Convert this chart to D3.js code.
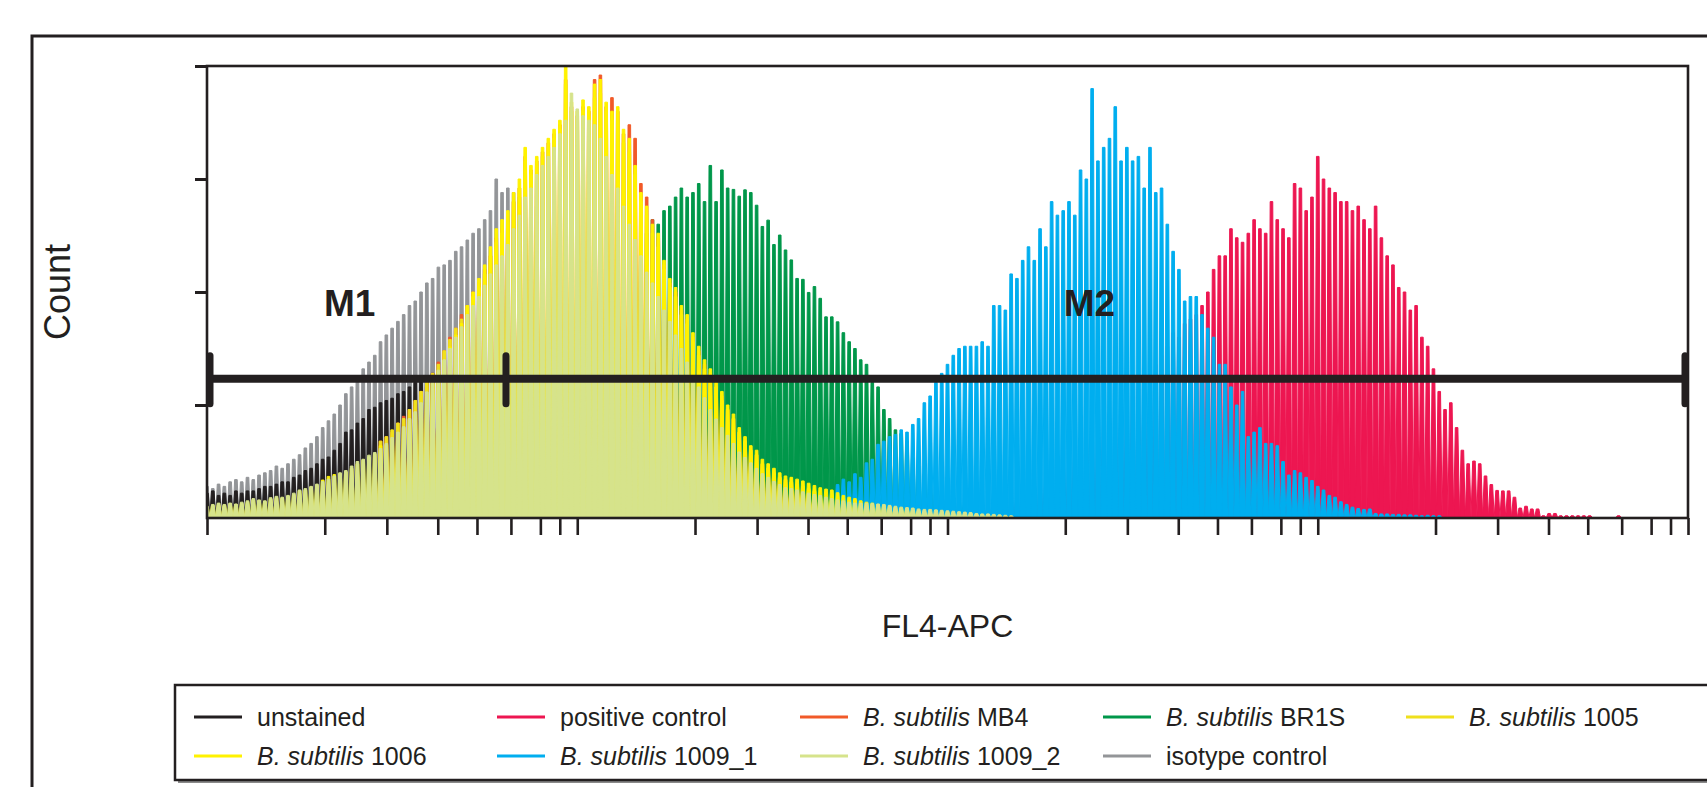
<!DOCTYPE html>
<html>
<head>
<meta charset="utf-8">
<script src="https://cdn.jsdelivr.net/npm/d3@7"></script>
<style>
  body { margin: 0; background: #fff; }
  svg { display: block; font-family: 'Liberation Sans', Arial, sans-serif; }
</style>
</head>
<body>
<div id="chart"></div>
<script>
// histogram counts per channel (256 channels over 4 log decades), in % of full scale
var seriesNames = ['isotype control', 'unstained', 'positive control', 'B. subtilis BR1S', 'B. subtilis 1009_1',
    'B. subtilis MB4', 'B. subtilis 1005', 'B. subtilis 1006', 'B. subtilis 1009_2'];
var seriesColors = ['#939598', '#231f20', '#ed1651', '#00974a', '#00aeef', '#f15a29', '#efe01c', '#fff200', '#d6e38b'];
var seriesStart = [0, 0, 100, 30, 40, 30, 30, 0, 0];

var isotype = [7, 6.5, 7.5, 7, 8, 8.5, 8, 9, 8.5, 9.5,
    10, 10.5, 11.5, 11, 12, 13, 14, 15.5, 16.5, 18,
    20, 21.5, 23, 25, 27.5, 29, 31, 33, 34.5, 36,
    39, 40.5, 42, 43.5, 45, 47, 48, 50, 52, 53,
    55.5, 56, 57, 59, 60, 61.5, 63, 64, 66, 68,
    75, 72, 73, 72, 71, 72, 70, 69, 67, 65,
    63, 60, 58, 55, 53, 50, 47, 45, 42, 39,
    37, 34, 32, 29, 27, 25, 23, 21, 19, 17.5,
    16, 14.5, 13, 12, 11, 10, 9, 8, 7.5, 7,
    6, 5.5, 5, 4.5, 4, 3.5, 3, 3, 2.5, 2,
    2, 1.5, 1.5, 1, 1, 0.5];
var unstained = [5.5, 6, 5, 5.5, 5, 6, 5.5, 6, 6, 6.5,
    7, 7, 7.5, 8, 8, 9, 9.5, 10.5, 11, 12,
    13, 13.5, 15, 16.5, 19, 19.5, 21, 22, 24, 24.5,
    25.5, 26, 26.5, 27.5, 28, 29, 30, 30.5, 31, 32,
    32.5, 33, 34, 34, 35, 35.5, 36, 36, 36.5, 37,
    37, 37.5, 38, 37.5, 38, 38, 37.5, 38, 37, 36,
    35, 34, 32, 31, 29.5, 28, 26, 25, 23.5, 22,
    20.5, 19, 18, 16, 14.5, 13, 12, 11, 10, 9,
    8.5, 7.5, 7, 6.5, 6, 5.5, 5, 4.5, 4, 3.5,
    3, 3, 2.5, 2, 2, 1.5, 1.5, 1, 1, 1,
    0.8, 0.6, 0.5, 0.5];
var positiveControl = [0.5, 0.6, 0.5, 0.7, 0.6, 0.5, 0.7, 0.6, 0.8, 0.7,
    0.8, 0.7, 0.9, 0.8, 1, 0.9, 1, 1.1, 1, 1.2,
    1.2, 1.1, 1.3, 1.2, 1.4, 1.3, 1.5, 1.4, 1.6, 1.5,
    1.7, 1.6, 1.8, 2, 2.2, 2.5, 2.8, 3, 3.5, 4,
    4.5, 5, 6, 6.5, 7.5, 8, 9, 10, 11.5, 12.5,
    14, 15, 16.5, 18, 19, 20.5, 22, 23, 24.5, 26,
    27, 28.5, 30, 33, 34, 36, 38, 41, 40, 43,
    44, 45, 47, 50, 55, 58, 58, 64, 62, 61,
    63, 66, 64, 63, 70, 66, 64, 62, 74, 73,
    68, 71, 80, 75, 73, 72, 70, 70, 68, 69,
    66, 64, 69, 62, 58, 56, 51, 50, 46, 47,
    40, 38, 33, 28, 24, 25.5, 20, 15, 12, 12.6,
    12, 9.3, 7.4, 6.1, 6, 6, 4.6, 2.2, 2.6, 2,
    2, 0.5, 1, 1, 0.5, 0.5, 0.5, 0.5, 0.5, 0.5,
    0, 0, 0, 0, 0.5];
var br1s = [0.8, 1, 1, 1.2, 1.5, 1.6, 1.8, 2, 2.3, 2.6,
    3, 3.3, 3.6, 4, 4.4, 5, 5.5, 6, 6.6, 7.3,
    8, 9, 10, 11, 12.5, 14, 15.5, 17, 18.5, 20,
    22, 24, 26, 28, 30, 32, 35, 38, 41, 44,
    46, 49, 52, 55, 58, 61, 63, 66, 65, 68,
    69, 71, 73, 71, 72, 74, 70, 78, 70, 77,
    73, 72.7, 71.2, 72.6, 72, 69.2, 64.5, 65.9, 60.5, 62.6,
    59.3, 57.1, 53, 52.8, 49.9, 51.2, 48.6, 44.5, 44.5, 43.4,
    41, 39, 37.5, 35, 34, 30, 29, 24, 22, 19.5,
    18.7, 17, 13.4, 11.5, 9.8, 8.6, 7.4, 6.2, 5, 4.5,
    4, 3.5, 3, 2.8, 2.5, 2.2, 2, 1.8, 1.5, 1.2,
    1, 0.8, 0.6, 0.5];
var bs1009a = [0.6, 0.5, 0.7, 0.6, 0.6, 0.7, 0.5, 0.6, 0.7, 0.6,
    0.7, 0.6, 0.8, 0.7, 0.6, 0.8, 0.7, 0.8, 0.7, 0.8,
    0.8, 0.7, 0.9, 0.8, 0.8, 0.9, 0.8, 1, 0.9, 1,
    1, 0.9, 1, 1.1, 1, 1.2, 1.1, 1.2, 1.3, 1.2,
    1.3, 1.4, 1.3, 1.5, 1.4, 1.6, 1.5, 1.7, 1.6, 1.8,
    1.8, 1.9, 2, 1.9, 2.1, 2, 2.2, 2.1, 2.3, 2.4,
    2.5, 2.6, 2.7, 2.8, 3, 3.3, 3.8, 5, 6, 7.4,
    8.6, 8, 9.8, 9, 12.2, 13, 16.3, 17, 18, 18.5,
    19.5, 19, 20.7, 22, 25.5, 27, 30, 32, 34, 36,
    37.5, 38, 38, 38, 39, 38, 47, 47, 46, 54,
    53, 57, 60, 57, 64, 60, 70, 67, 68, 70,
    67, 77, 75, 95, 79, 82, 84, 91, 79, 82,
    79, 80, 73, 82, 72, 73, 65, 59, 55, 48,
    49, 49, 45, 42, 40, 34, 34, 29, 25, 28,
    18, 19, 20, 16.5, 16.5, 16, 12.5, 9.5, 10.5, 10,
    9, 8.3, 7, 6.2, 5, 4.6, 3.6, 3, 2.4, 2.1,
    1.9, 2, 1, 0.9, 0.9, 0.8, 0.8, 0.7, 0.7, 0.6,
    0.5, 0.6, 0.5, 0.5];
var mb4 = [17, 18, 19, 21, 22.5, 24, 26, 28, 30, 32,
    34.5, 37, 40, 42, 45, 47, 50, 52, 55, 58,
    62, 64, 66, 70, 73, 80, 77, 79, 81, 83,
    85, 87, 97, 91, 89, 91, 90, 97, 98, 91,
    93, 90, 85, 87, 84, 74, 71, 66, 62, 56,
    52, 50, 46, 44, 40, 37, 34, 32, 29, 27,
    24, 22, 19, 17, 15, 14, 12, 11, 10, 9,
    8.5, 8, 7.5, 7, 6, 5];
var bs1005 = [17, 18, 19.5, 21, 22, 24, 26, 28, 30, 32,
    34, 37, 39.5, 42, 44, 47, 49, 51, 54, 58,
    61, 63, 66, 70, 73, 79, 76, 78, 80, 82,
    84, 86, 96, 90, 88, 90, 89, 93, 94, 90,
    88, 88, 83, 81, 76, 70, 67, 63, 60, 55,
    51, 49, 45, 43, 39, 36, 33, 31, 29, 26,
    24, 22, 19, 17, 15, 14, 12, 11, 10, 9,
    8.5, 8, 7.5, 7, 6.5, 6];
var bs1006 = [2.4, 2.8, 3, 2.8, 3, 3, 3.2, 3.5, 4, 3.8,
    3.6, 4.2, 4.5, 4.4, 4.8, 5.2, 6, 6.2, 6.8, 7.2,
    8.4, 9.2, 9.6, 9.8, 10.2, 11, 12, 12.8, 13.5, 14.2,
    16, 16.2, 17.5, 18.8, 20, 21.8, 23.2, 25.2, 27.5, 29.8,
    32.5, 34.8, 37.8, 40.5, 43, 47, 50, 53, 56, 60,
    64, 66, 68, 72, 75, 82, 78, 80, 82, 84,
    86, 88, 100, 92, 90, 92.5, 91, 96, 97, 92,
    90, 91, 86, 84, 78, 72, 69, 65, 63, 57,
    53, 51, 47, 45, 41, 38, 35, 33, 30, 28,
    25, 23, 20, 18, 16, 15, 13, 12, 11, 10,
    9.3, 9, 8.6, 8.2, 7.7, 7.2, 6.7, 6.4, 6.2, 5.6,
    5, 4.6, 4.3, 3.8, 3.5, 3.3, 3, 2.8, 2.6, 2.4,
    2.2, 2, 1.8, 1.5, 1.2, 1];
var bs1009b = [2.6, 3, 3.3, 3, 3.3, 3.1, 3.5, 3.8, 4.3, 4,
    3.8, 4.5, 4.8, 4.6, 5, 5.5, 6.2, 6.5, 7, 7.5,
    8.1, 8.6, 9.3, 10, 10.5, 11.5, 12.5, 13, 13.9, 14.5,
    15.4, 16.5, 17.8, 19, 20.2, 22, 23.5, 25.5, 27.9, 30,
    32.7, 35, 37.5, 40, 42.3, 45, 47, 49, 51.5, 54,
    56, 58, 60.5, 64, 67, 71, 73, 76, 78, 80,
    82, 85, 88, 94, 90.5, 89, 88, 87, 84, 80,
    76, 73, 69, 65, 61.6, 58, 54.4, 52, 49, 46,
    43.5, 40.5, 37.5, 34.5, 31.5, 29, 26.6, 24, 21.9, 20,
    18.3, 16.5, 14.6, 13.4, 12.2, 11, 9.8, 9, 8.1, 7.4,
    6.7, 6.5, 6.2, 5.8, 5.5, 5.2, 5, 4.6, 4.3, 4,
    3.8, 3.5, 3.3, 3.3, 3.3, 3.2, 3.1, 3, 2.8, 2.6,
    2.4, 2.3, 2.2, 2, 1.9, 1.9, 1.8, 1.7, 1.6, 1.5,
    1.4, 1.3, 1.2, 1, 0.9, 0.9, 0.8, 0.7, 0.6, 0.5];
var seriesValues = [isotype, unstained, positiveControl, br1s, bs1009a, mb4, bs1005, bs1006, bs1009b];

var legendNames = ['unstained', 'positive control', 'B. subtilis MB4', 'B. subtilis BR1S', 'B. subtilis 1005',
    'B. subtilis 1006', 'B. subtilis 1009_1', 'B. subtilis 1009_2', 'isotype control'];
var legendColors = ['#231f20', '#ed1651', '#f15a29', '#00974a', '#efe01c', '#fff200', '#00aeef', '#d6e38b', '#939598'];

var decades = [1, 10, 100, 1000, 10000];
var minorSteps = [2.08, 3.06, 4.2, 5.36, 6.62, 7.95, 8.97];
var yTicks = [25, 50, 75, 100];
var markerLevel = 30.8;
var markerCaps = [1, 6.42, 10000];
var markerLabels = [{ text: 'M1', at: 2.07 }, { text: 'M2', at: 206 }];

var channelsPerDecade = 64;
var ink = '#231f20';

var width = 1707, height = 787;
var plotLeft = 207, plotRight = 1688, plotTop = 66, plotBottom = 518;

var svg = d3.select('#chart').append('svg')
    .attr('width', width)
    .attr('height', height);

var x = d3.scaleLog().domain([1, 10000]).range([plotLeft, plotRight]);
var y = d3.scaleLinear().domain([0, 100]).range([plotBottom, plotTop]);

// outer frame
svg.append('rect')
    .attr('x', 32).attr('y', 36)
    .attr('width', 1700).attr('height', 800)
    .attr('fill', 'none')
    .attr('stroke', ink)
    .attr('stroke-width', 3);

svg.append('clipPath').attr('id', 'plotClip')
    .append('rect')
    .attr('x', plotLeft).attr('y', plotTop - 2)
    .attr('width', plotRight - plotLeft).attr('height', plotBottom - plotTop + 2);

var binEdge = function (i) {
    return x(Math.pow(10, i / channelsPerDecade));
};

var histPath = function (start, values) {
    var g = 1.6;
    var y0 = y(0);
    var pts = [[binEdge(start - 0.5), y0]];
    values.forEach(function (v, k) {
        var i = start + k;
        var xl = binEdge(i - 0.5), xr = binEdge(i + 0.5);
        pts.push([xl + g, y(v)], [xr - g, y(v)], [xr, y0]);
    });
    return d3.line()(pts) + 'Z';
};

var plot = svg.append('g').attr('clip-path', 'url(#plotClip)');

plot.selectAll('path.hist')
    .data(seriesValues)
    .enter()
    .append('path')
    .attr('class', 'hist')
    .attr('d', function (d, i) {
        return histPath(seriesStart[i], d);
    })
    .attr('fill', function (d, i) { return seriesColors[i]; })
    .attr('stroke', function (d, i) { return seriesColors[i]; })
    .attr('stroke-width', 1)
    .attr('stroke-linejoin', 'round');

// x ticks
var xTickValues = [];
decades.forEach(function (d, k) {
    xTickValues.push(d);
    if (k < decades.length - 1) {
        minorSteps.forEach(function (m) { xTickValues.push(d * m); });
    }
});

svg.append('g')
    .attr('transform', 'translate(0,' + plotBottom + ')')
    .call(d3.axisBottom(x).tickValues(xTickValues).tickSize(17).tickFormat(''))
    .call(function (g) {
        g.select('.domain').remove();
        g.selectAll('line').attr('stroke', ink).attr('stroke-width', 2.6);
    });

svg.append('g')
    .attr('transform', 'translate(' + plotLeft + ',0)')
    .call(d3.axisLeft(y).tickValues(yTicks).tickSize(12).tickFormat(''))
    .call(function (g) {
        g.select('.domain').remove();
        g.selectAll('line').attr('stroke', ink).attr('stroke-width', 3);
    });

// plot frame
svg.append('rect')
    .attr('x', plotLeft).attr('y', plotTop)
    .attr('width', plotRight - plotLeft).attr('height', plotBottom - plotTop)
    .attr('fill', 'none')
    .attr('stroke', ink)
    .attr('stroke-width', 2.6);

// markers
svg.append('line')
    .attr('x1', x(markerCaps[0])).attr('x2', x(markerCaps[2]))
    .attr('y1', y(markerLevel)).attr('y2', y(markerLevel))
    .attr('stroke', ink)
    .attr('stroke-width', 8);

svg.selectAll('line.cap')
    .data(markerCaps)
    .enter()
    .append('line')
    .attr('class', 'cap')
    .attr('x1', function (d, i) { return x(d) + [3, 0, -3][i]; })
    .attr('x2', function (d, i) { return x(d) + [3, 0, -3][i]; })
    .attr('y1', y(markerLevel) - 23)
    .attr('y2', y(markerLevel) + 25)
    .attr('stroke', ink)
    .attr('stroke-width', 7)
    .attr('stroke-linecap', 'round');

svg.selectAll('text.mlabel')
    .data(markerLabels)
    .enter()
    .append('text')
    .attr('class', 'mlabel')
    .attr('x', function (d) { return x(d.at); })
    .attr('y', 316)
    .attr('font-size', '37px')
    .attr('font-weight', 'bold')
    .attr('fill', ink)
    .text(function (d) { return d.text; });

// axis titles
svg.append('text')
    .attr('x', (plotLeft + plotRight) / 2)
    .attr('y', 637)
    .attr('text-anchor', 'middle')
    .attr('font-size', '32px')
    .attr('fill', ink)
    .text('FL4-APC');

svg.append('text')
    .attr('transform', 'translate(70,' + ((plotTop + plotBottom) / 2) + ') rotate(-90)')
    .attr('text-anchor', 'middle')
    .attr('font-size', '36px')
    .attr('fill', ink)
    .text('Count');

// legend
var legend = svg.append('g');
legend.append('rect')
    .attr('x', 178).attr('y', 688)
    .attr('width', 1600).attr('height', 95)
    .attr('fill', '#8a8a8a');
legend.append('rect')
    .attr('x', 175).attr('y', 685)
    .attr('width', 1600).attr('height', 95)
    .attr('fill', '#fff')
    .attr('stroke', ink)
    .attr('stroke-width', 2.5);

var colX = 194, colW = 303, rowY = [717, 756];
var items = legend.selectAll('g.item')
    .data(legendNames)
    .enter()
    .append('g')
    .attr('class', 'item')
    .attr('transform', function (d, i) {
        return 'translate(' + (colX + (i % 5) * colW) + ',' + rowY[Math.floor(i / 5)] + ')';
    });

items.append('line')
    .attr('x1', 0).attr('x2', 48)
    .attr('y1', 0).attr('y2', 0)
    .attr('stroke', function (d, i) { return legendColors[i]; })
    .attr('stroke-width', 3);

items.append('text')
    .attr('x', 63)
    .attr('y', 9)
    .attr('font-size', '25px')
    .attr('fill', ink)
    .each(function (d) {
        var t = d3.select(this);
        if (d.indexOf('B. subtilis') === 0) {
            t.append('tspan').attr('font-style', 'italic').text('B. subtilis');
            t.append('tspan').text(d.slice(11));
        } else {
            t.text(d);
        }
    });
</script>
</body>
</html>
